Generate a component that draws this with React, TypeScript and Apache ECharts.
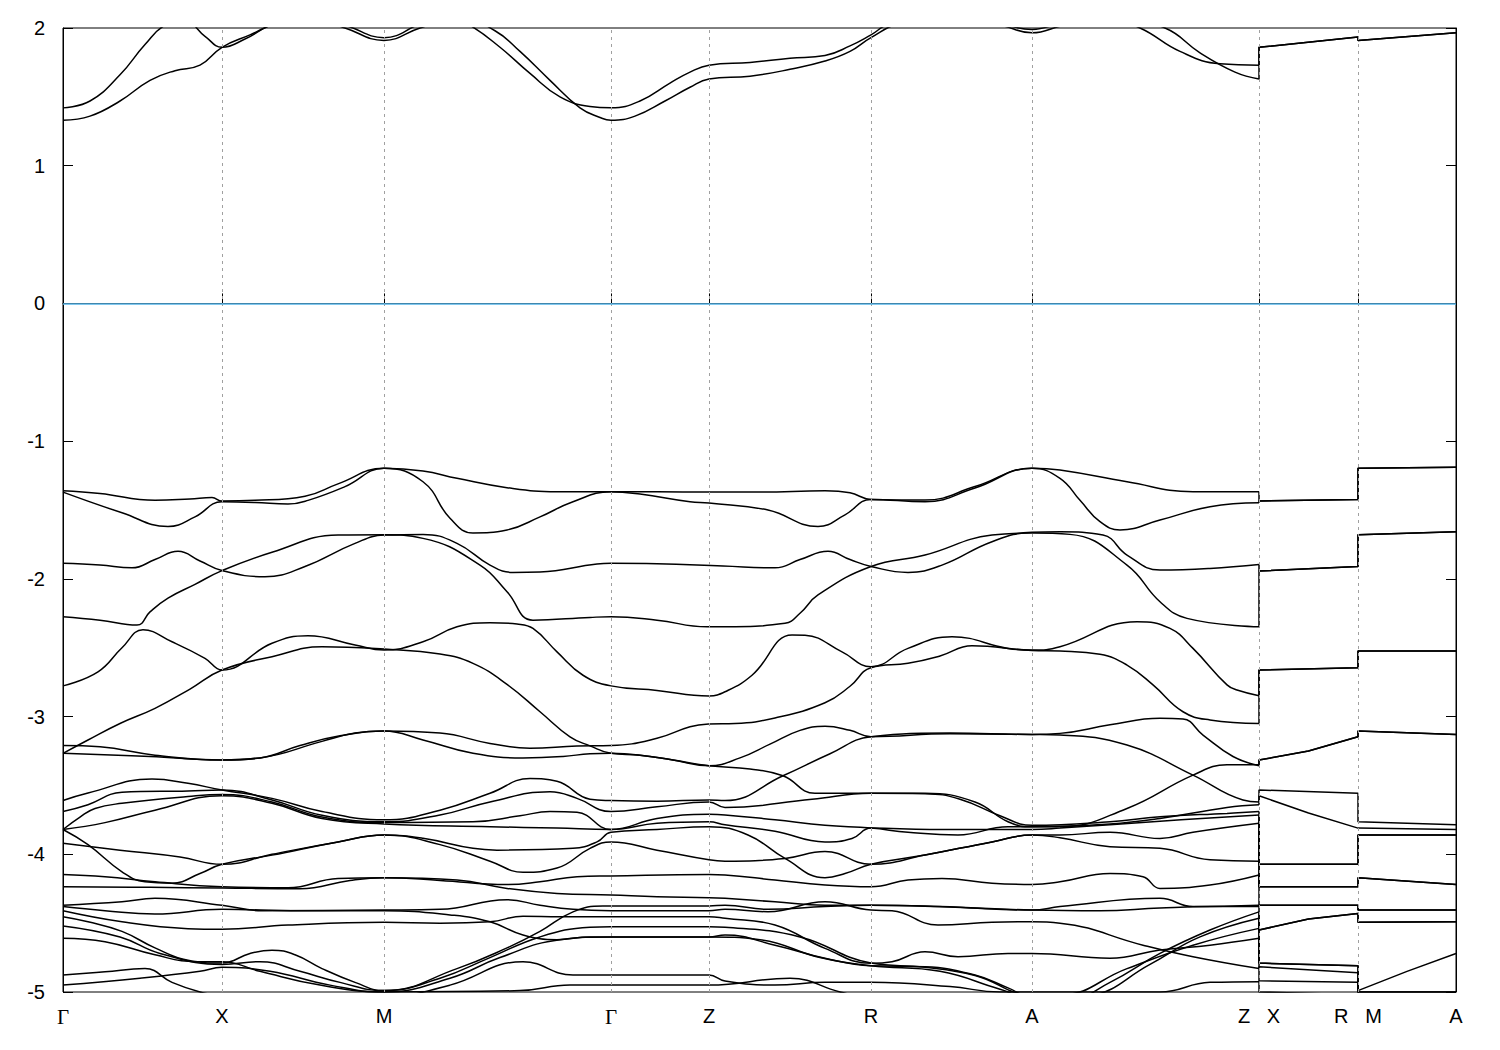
import React, { useEffect, useRef } from "react";
import * as echarts from "echarts";

// k-path positions of the high-symmetry points (arbitrary path units)
const kTicks = [63, 222, 384, 611, 709, 871, 1032, 1259, 1358, 1456];
const kLabels = ["Γ", "X", "M", "Γ", "Z", "R", "A", "Z|X", "R|M", "A"];
const yTicks = [-5, -4, -3, -2, -1, 0, 1, 2];

// ---- bands along Γ-X-M-Γ-Z-R-A-Z : [k, E(eV)] ----
const cb1 = [[63,1.33],[90,1.36],[120,1.47],[150,1.62],[175,1.69],[200,1.73],[222,1.86],[250,1.95],[275,2.03],[310,2.08],[345,2.0],[384,1.91],[420,2.0],[460,2.08],[495,1.98],[520,1.83],[550,1.62],[580,1.42],[600,1.35],[611,1.33],[635,1.36],[665,1.47],[690,1.57],[709,1.63],[750,1.65],[790,1.7],[825,1.76],[850,1.83],[871,1.93],[900,2.03],[950,2.06],[1000,2.02],[1032,1.965],[1065,2.02],[1120,2.06],[1165,2.0],[1200,1.82],[1235,1.68],[1259,1.63]];
const cb2 = [[63,1.42],[90,1.47],[120,1.66],[145,1.88],[165,2.02],[185,2.05],[205,1.94],[222,1.86],[245,1.92],[270,2.02],[300,2.1],[345,2.02],[384,1.93],[420,2.03],[445,2.1],[470,2.02],[500,1.86],[530,1.67],[560,1.5],[590,1.43],[611,1.42],[640,1.47],[670,1.6],[690,1.68],[709,1.73],[750,1.75],[790,1.78],[825,1.8],[850,1.87],[871,1.95],[890,2.03],[950,2.08],[1000,2.03],[1032,1.99],[1065,2.04],[1110,2.06],[1140,2.0],[1180,1.83],[1220,1.74],[1259,1.73]];

const v1 = [[63,-1.36],[100,-1.38],[155,-1.43],[190,-1.42],[212,-1.41],[222,-1.435],[255,-1.43],[305,-1.40],[338,-1.31],[384,-1.197],[423,-1.217],[457,-1.27],[507,-1.338],[557,-1.367],[611,-1.367],[657,-1.367],[709,-1.37],[760,-1.37],[825,-1.36],[850,-1.375],[871,-1.423],[925,-1.428],[975,-1.33],[1032,-1.197],[1060,-1.21],[1127,-1.295],[1193,-1.367],[1259,-1.367]];
const v2 = [[63,-1.37],[122,-1.52],[168,-1.62],[195,-1.55],[222,-1.44],[255,-1.445],[288,-1.457],[308,-1.43],[345,-1.33],[384,-1.197],[423,-1.295],[450,-1.56],[473,-1.667],[507,-1.645],[540,-1.55],[573,-1.44],[611,-1.367],[640,-1.384],[690,-1.44],[709,-1.45],[768,-1.5],[818,-1.62],[845,-1.535],[871,-1.423],[925,-1.44],[975,-1.34],[1032,-1.197],[1060,-1.27],[1080,-1.43],[1100,-1.585],[1120,-1.645],[1160,-1.573],[1210,-1.476],[1259,-1.447]];
const v3 = [[63,-1.887],[100,-1.9],[132,-1.92],[155,-1.86],[178,-1.8],[200,-1.87],[222,-1.94],[265,-1.985],[305,-1.91],[355,-1.742],[384,-1.682],[423,-1.677],[457,-1.742],[490,-1.9],[513,-1.953],[540,-1.95],[597,-1.892],[611,-1.887],[657,-1.89],[723,-1.907],[775,-1.92],[800,-1.86],[828,-1.8],[850,-1.86],[871,-1.91],[908,-1.953],[942,-1.9],[992,-1.73],[1032,-1.662],[1060,-1.658],[1103,-1.682],[1127,-1.827],[1160,-1.936],[1210,-1.924],[1259,-1.895]];
const v4 = [[63,-2.275],[100,-2.3],[137,-2.335],[150,-2.24],[168,-2.14],[195,-2.04],[222,-1.94],[272,-1.807],[338,-1.682],[384,-1.68],[423,-1.706],[480,-1.9],[507,-2.093],[533,-2.3],[590,-2.28],[611,-2.275],[657,-2.3],[707,-2.348],[725,-2.348],[785,-2.323],[800,-2.25],[818,-2.117],[871,-1.91],[925,-1.827],[992,-1.682],[1032,-1.667],[1070,-1.677],[1127,-1.9],[1160,-2.166],[1187,-2.287],[1259,-2.348]];

const v5 = [[63,-2.777],[98,-2.675],[122,-2.5],[143,-2.37],[172,-2.457],[205,-2.577],[222,-2.662],[272,-2.468],[308,-2.413],[355,-2.48],[384,-2.517],[423,-2.457],[457,-2.348],[490,-2.318],[517,-2.328],[533,-2.36],[557,-2.53],[583,-2.7],[611,-2.777],[657,-2.81],[709,-2.85],[725,-2.82],[752,-2.7],[792,-2.408],[805,-2.41],[842,-2.53],[871,-2.638],[908,-2.505],[952,-2.42],[1008,-2.505],[1032,-2.517],[1060,-2.493],[1137,-2.311],[1170,-2.36],[1193,-2.505],[1227,-2.77],[1237,-2.807],[1259,-2.848]];
const v6 = [[63,-3.267],[88,-3.17],[120,-3.05],[155,-2.94],[190,-2.8],[222,-2.662],[272,-2.565],[322,-2.493],[384,-2.51],[440,-2.546],[473,-2.614],[507,-2.766],[540,-2.965],[570,-3.147],[590,-3.213],[611,-3.267],[640,-3.28],[673,-3.316],[709,-3.357],[750,-3.38],[783,-3.43],[815,-3.557],[871,-3.557],[925,-3.557],[975,-3.62],[1008,-3.764],[1032,-3.8],[1060,-3.8],[1127,-3.667],[1193,-3.425],[1227,-3.35],[1259,-3.35]];
const v7 = [[63,-3.21],[100,-3.22],[155,-3.28],[222,-3.316],[260,-3.3],[322,-3.18],[355,-3.12],[384,-3.105],[440,-3.12],[490,-3.195],[530,-3.23],[577,-3.213],[611,-3.21],[657,-3.158],[690,-3.074],[709,-3.054],[735,-3.05],[775,-3.01],[825,-2.9],[850,-2.78],[871,-2.645],[908,-2.613],[940,-2.56],[972,-2.486],[1032,-2.52],[1060,-2.524],[1100,-2.548],[1127,-2.626],[1153,-2.77],[1183,-2.965],[1210,-3.025],[1259,-3.05]];
const v8 = [[63,-3.267],[150,-3.29],[222,-3.316],[260,-3.3],[300,-3.21],[340,-3.14],[384,-3.105],[423,-3.17],[473,-3.267],[523,-3.3],[563,-3.29],[590,-3.27],[611,-3.267],[640,-3.28],[673,-3.316],[709,-3.357],[740,-3.3],[770,-3.2],[800,-3.1],[825,-3.07],[850,-3.1],[871,-3.146],[950,-3.125],[1032,-3.13],[1060,-3.134],[1127,-3.207],[1193,-3.425],[1243,-3.606],[1259,-3.62]];

const d1 = [[63,-3.61],[88,-3.555],[152,-3.453],[188,-3.485],[222,-3.533],[272,-3.594],[322,-3.69],[384,-3.75],[440,-3.68],[490,-3.557],[530,-3.45],[557,-3.47],[590,-3.6],[611,-3.61],[657,-3.615],[709,-3.605],[725,-3.61],[783,-3.43],[830,-3.27],[871,-3.146],[950,-3.12],[1032,-3.13],[1060,-3.122],[1110,-3.06],[1160,-3.013],[1183,-3.018],[1203,-3.134],[1233,-3.29],[1259,-3.357]];
const d2 = [[63,-3.69],[88,-3.64],[122,-3.55],[188,-3.54],[222,-3.533],[272,-3.606],[322,-3.717],[384,-3.764],[440,-3.715],[490,-3.62],[550,-3.546],[577,-3.594],[611,-3.69],[657,-3.655],[709,-3.62],[725,-3.66],[812,-3.6],[871,-3.557],[925,-3.56],[960,-3.6],[1000,-3.72],[1032,-3.79],[1110,-3.764],[1160,-3.727],[1227,-3.703],[1259,-3.69]];
const d3 = [[63,-3.82],[80,-3.73],[95,-3.667],[122,-3.63],[188,-3.58],[222,-3.565],[272,-3.62],[322,-3.73],[384,-3.77],[473,-3.764],[520,-3.72],[550,-3.69],[577,-3.695],[611,-3.82],[657,-3.74],[709,-3.71],[725,-3.714],[775,-3.75],[825,-3.79],[871,-3.81],[908,-3.84],[958,-3.86],[1008,-3.8],[1032,-3.8],[1110,-3.78],[1160,-3.74],[1227,-3.66],[1259,-3.64]];
const d4 = [[63,-3.82],[105,-3.77],[155,-3.68],[222,-3.575],[272,-3.63],[322,-3.74],[384,-3.78],[490,-3.8],[557,-3.81],[611,-3.82],[657,-3.775],[709,-3.764],[725,-3.786],[775,-3.833],[825,-3.91],[852,-3.885],[871,-3.81],[930,-3.82],[1000,-3.82],[1032,-3.82],[1060,-3.81],[1160,-3.76],[1259,-3.714]];
const d5 = [[63,-3.82],[88,-3.93],[122,-4.127],[145,-4.2],[172,-4.21],[200,-4.14],[222,-4.073],[272,-4.006],[338,-3.91],[384,-3.86],[423,-3.884],[473,-3.957],[497,-3.97],[573,-3.957],[597,-3.91],[611,-3.84],[657,-3.82],[709,-3.8],[748,-3.86],[785,-4.03],[825,-4.17],[845,-4.14],[871,-4.073],[925,-4.006],[992,-3.91],[1032,-3.86],[1060,-3.88],[1110,-3.945],[1160,-3.957],[1210,-4.04],[1259,-4.05]];
const d6 = [[63,-3.92],[120,-3.97],[180,-4.02],[222,-4.073],[272,-4.0],[338,-3.91],[384,-3.86],[440,-3.93],[490,-4.05],[523,-4.13],[557,-4.1],[590,-3.957],[611,-3.91],[657,-3.97],[709,-4.04],[725,-4.05],[785,-4.03],[825,-3.98],[871,-4.073],[925,-4.006],[992,-3.91],[1032,-3.86],[1060,-3.86],[1110,-3.84],[1160,-3.885],[1193,-3.84],[1259,-3.775]];

const e1 = [[63,-4.146],[105,-4.163],[155,-4.2],[222,-4.236],[288,-4.243],[338,-4.175],[384,-4.17],[457,-4.187],[507,-4.248],[557,-4.284],[611,-4.296],[657,-4.308],[709,-4.315],[725,-4.32],[775,-4.345],[825,-4.37],[871,-4.37],[925,-4.375],[992,-4.397],[1032,-4.405],[1060,-4.38],[1160,-4.32],[1193,-4.38],[1259,-4.37]];
const e2 = [[63,-4.236],[150,-4.24],[222,-4.245],[300,-4.25],[350,-4.19],[384,-4.17],[440,-4.19],[507,-4.22],[540,-4.2],[577,-4.163],[611,-4.157],[709,-4.146],[725,-4.15],[775,-4.187],[825,-4.223],[871,-4.236],[908,-4.187],[942,-4.175],[992,-4.21],[1032,-4.219],[1060,-4.2],[1110,-4.14],[1143,-4.163],[1160,-4.248],[1210,-4.223],[1259,-4.15]];
const e3 = [[63,-4.37],[122,-4.345],[155,-4.32],[222,-4.37],[262,-4.41],[384,-4.405],[440,-4.40],[507,-4.33],[540,-4.37],[573,-4.40],[611,-4.41],[709,-4.41],[725,-4.40],[768,-4.417],[825,-4.345],[871,-4.405],[892,-4.41],[938,-4.514],[992,-4.494],[1032,-4.49],[1060,-4.5],[1143,-4.66],[1193,-4.744],[1259,-4.83]];
const e4 = [[63,-4.38],[105,-4.41],[155,-4.434],[222,-4.40],[300,-4.41],[384,-4.41],[450,-4.44],[490,-4.49],[523,-4.586],[557,-4.62],[590,-4.60],[611,-4.60],[709,-4.60],[725,-4.587],[775,-4.66],[825,-4.755],[871,-4.81],[925,-4.817],[975,-4.877],[1008,-4.97],[1032,-5.04],[1070,-5.05],[1110,-4.93],[1160,-4.72],[1210,-4.55],[1259,-4.418]];
const e5 = [[63,-4.41],[122,-4.49],[188,-4.54],[222,-4.545],[288,-4.514],[384,-4.494],[440,-4.5],[490,-4.49],[523,-4.45],[560,-4.453],[611,-4.453],[709,-4.453],[725,-4.465],[775,-4.514],[825,-4.683],[871,-4.792],[892,-4.78],[925,-4.708],[958,-4.744],[1008,-4.72],[1032,-4.72],[1110,-4.755],[1160,-4.695],[1210,-4.66],[1259,-4.61]];
const e6 = [[63,-4.453],[88,-4.49],[122,-4.56],[155,-4.68],[188,-4.77],[222,-4.79],[250,-4.72],[272,-4.696],[295,-4.73],[322,-4.83],[355,-4.93],[384,-4.99],[457,-4.83],[507,-4.68],[540,-4.56],[573,-4.418],[603,-4.375],[611,-4.375],[709,-4.375],[725,-4.37],[768,-4.40],[825,-4.38],[871,-4.37],[940,-4.38],[1032,-4.405],[1100,-4.41],[1160,-4.39],[1210,-4.38],[1259,-4.38]];
const e7 = [[63,-4.52],[120,-4.6],[160,-4.72],[222,-4.80],[260,-4.78],[300,-4.85],[340,-4.93],[384,-4.99],[440,-4.9],[490,-4.75],[540,-4.6],[590,-4.53],[611,-4.526],[709,-4.526],[725,-4.53],[800,-4.6],[871,-4.79],[925,-4.82],[975,-4.88],[1032,-5.02],[1060,-5.02],[1127,-4.83],[1193,-4.66],[1259,-4.538]];
const e8 = [[63,-4.61],[105,-4.635],[155,-4.73],[195,-4.78],[222,-4.78],[260,-4.85],[320,-4.95],[384,-5.0],[450,-4.9],[500,-4.75],[560,-4.62],[611,-4.6],[709,-4.6],[760,-4.62],[820,-4.75],[871,-4.81],[940,-4.85],[1000,-4.98],[1040,-5.06],[1090,-5.03],[1150,-4.8],[1200,-4.6],[1259,-4.465]];
const e9 = [[63,-4.877],[105,-4.853],[145,-4.83],[172,-4.93],[200,-5.0],[222,-5.03],[300,-5.1],[384,-5.05],[450,-4.95],[523,-4.78],[573,-4.877],[611,-4.877],[709,-4.877],[725,-4.92],[775,-4.95],[825,-4.93],[871,-4.93],[950,-4.96],[1000,-5.0],[1160,-5.0],[1210,-4.93],[1259,-4.925]];
const e10 = [[63,-4.95],[140,-4.9],[200,-4.85],[222,-4.82],[270,-4.85],[330,-4.95],[384,-5.0],[520,-4.99],[570,-4.95],[611,-4.95],[709,-4.95],[790,-4.9],[840,-5.0],[900,-5.1]];

const bands = [cb1, cb2, v1, v2, v3, v4, v5, v6, v7, v8, d1, d2, d3, d4, d5, d6, e1, e2, e3, e4, e5, e6, e7, e8, e9, e10];

// ---- values on the detached segments X-R and M-A (one row per band above) ----
// [E at X, E mid X-R (or null), E at R, E at M, E mid M-A (or null), E at A]
const tails = [
  [1.86, null, 1.935, 1.91, null, 1.965],
  [1.86, null, 1.935, 1.91, null, 1.965],
  [-1.435, null, -1.423, -1.197, null, -1.19],
  [-1.435, null, -1.423, -1.197, null, -1.19],
  [-1.943, null, -1.91, -1.68, null, -1.658],
  [-1.943, null, -1.91, -1.68, null, -1.658],
  [-2.662, null, -2.645, -2.524, null, -2.524],
  [-3.316, -3.25, -3.146, -3.105, null, -3.13],
  [-2.662, null, -2.645, -2.524, null, -2.524],
  [-3.533, null, -3.557, -3.764, null, -3.786],
  [-3.316, -3.25, -3.146, -3.105, null, -3.13],
  [-4.073, null, -4.073, -3.86, null, -3.86],
  [-3.575, -3.7, -3.81, -3.81, null, -3.82],
  [-4.073, null, -4.073, -3.86, null, -3.86],
  [-4.236, null, -4.236, -4.17, null, -4.219],
  [-4.236, null, -4.236, -4.17, null, -4.219],
  [-4.37, null, -4.37, -4.405, null, -4.405],
  [-4.37, null, -4.37, -4.405, null, -4.405],
  [-4.817, null, -4.86, -5.0, null, -5.0],
  [-4.55, -4.47, -4.43, -4.494, null, -4.49],
  [-4.79, null, -4.81, -4.99, -4.85, -4.72],
  [-4.55, -4.47, -4.43, -4.494, null, -4.49],
  [-4.79, null, -4.81, -5.0, null, -5.0],
  [-4.918, null, -4.93, -5.05, null, -5.05],
  [-5.0, null, -5.02, -5.05, null, -5.05],
  [-5.05, null, -5.05, -5.05, null, -5.05],
];

const FONT = "'Liberation Sans', Arial, sans-serif";

function tailPoints(band: number[][], t: (number | null)[]) {
  const kZ = kTicks[7], kR = kTicks[8], kA = kTicks[9];
  const pts: number[][] = [[kZ, band[band.length - 1][1]], [kZ, t[0] as number]];
  if (t[1] != null) pts.push([(kZ + kR) / 2, t[1] as number]);
  pts.push([kR, t[2] as number], [kR, t[3] as number]);
  if (t[4] != null) pts.push([(kR + kA) / 2, t[4] as number]);
  pts.push([kA, t[5] as number]);
  return pts;
}

export default function App() {
  const ref = useRef<HTMLDivElement>(null);
  useEffect(() => {
    document.body.style.margin = "0";
    const chart = echarts.init(ref.current!, null, { renderer: "svg" });
    const lineStyle = { color: "#000", width: 1.5 };
    const series: any[] = [];
    series.push({
      type: "line",
      data: [],
      silent: true,
      z: 1,
      markLine: {
        silent: true,
        symbol: "none",
        animation: false,
        label: { show: false },
        data: [
          ...kTicks.slice(1, -1).map((k) => ({ xAxis: k, lineStyle: { color: "#a0a0a0", type: [3, 4], width: 1 } })),
          { yAxis: 0, lineStyle: { color: "#56b4e9", type: "solid", width: 1.5 } },
        ],
      },
    });
    bands.forEach((b) => {
      series.push({
        type: "line",
        data: b,
        smooth: 0.45,
        showSymbol: false,
        silent: true,
        z: 3,
        lineStyle,
      });
    });
    bands.forEach((b, i) => {
      series.push({
        type: "line",
        data: tailPoints(b, tails[i]),
        showSymbol: false,
        silent: true,
        z: 3,
        lineStyle,
      });
    });
    const axisTickStyle = { show: true, inside: true, length: 10, lineStyle: { color: "#000", width: 1 } };
    chart.setOption({
      animation: false,
      backgroundColor: "#fff",
      grid: { left: 63, right: 44, top: 28, bottom: 58, show: true, borderColor: "#000", borderWidth: 1, backgroundColor: "transparent", outerBoundsMode: "none" },
      xAxis: [
        {
          type: "value",
          min: kTicks[0],
          max: kTicks[kTicks.length - 1],
          axisLine: { show: true, lineStyle: { color: "#000", width: 1 } },
          axisTick: { ...axisTickStyle, customValues: kTicks },
          splitLine: { show: false },
          axisLabel: {
            customValues: kTicks,
            margin: 14,
            color: "#000",
            fontSize: 20,
            fontFamily: FONT,
            formatter: (v: number) => {
              const i = kTicks.indexOf(v);
              const s = i >= 0 ? kLabels[i] : "";
              if (s === "Γ") return "{g|Γ}";
              return s.replace("|", "   ");
            },
            rich: { g: { fontFamily: "'Liberation Serif', 'DejaVu Serif', serif", fontSize: 21, color: "#000" } },
          },
        },
      ],
      yAxis: [
        {
          type: "value",
          min: -5,
          max: 2,
          interval: 1,
          axisLine: { show: true, lineStyle: { color: "#000", width: 1 } },
          axisTick: axisTickStyle,
          splitLine: { show: false },
          axisLabel: { color: "#000", fontSize: 20, fontFamily: FONT, margin: 18, customValues: yTicks },
        },
        {
          type: "value",
          position: "right",
          min: -5,
          max: 2,
          interval: 1,
          axisLine: { show: true, lineStyle: { color: "#000", width: 1 } },
          axisTick: axisTickStyle,
          splitLine: { show: false },
          axisLabel: { show: false },
        },
      ],
      series,
    });
    return () => chart.dispose();
  }, []);
  return <div ref={ref} style={{ width: 1500, height: 1050 }} />;
}
